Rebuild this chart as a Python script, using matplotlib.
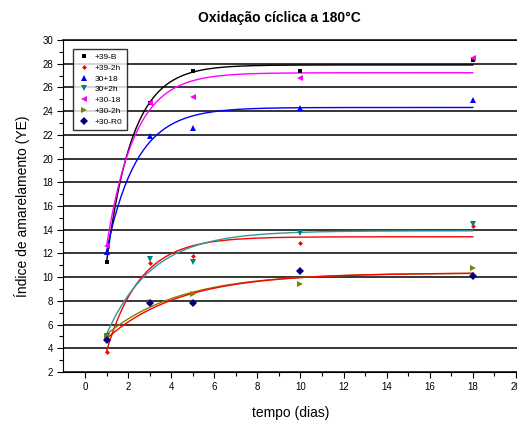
import matplotlib
matplotlib.use('Agg')
import matplotlib.pyplot as plt
import numpy as np
from matplotlib.ticker import MultipleLocator

plt.rcParams['font.family'] = ['Liberation Sans', 'DejaVu Sans']

# tempo de oxidação (dias)
dias = [1, 3, 5, 10, 18]

# índice de amarelamento de cada amostra
ye_39_b = [11.3, 24.7, 27.4, 27.4, 28.3]
ye_39_2h = [3.7, 11.2, 11.8, 12.9, 14.3]
ye_30_18 = [12.15, 21.9, 22.55, 24.3, 24.9]
ye_30_2h = [5.0, 11.5, 11.3, 13.7, 14.45]
ye_m30_18 = [12.6, 24.7, 25.2, 26.8, 28.5]
ye_m30_2h = [5.0, 7.9, 8.6, 9.4, 10.75]
ye_m30_r0 = [4.7, 7.85, 7.85, 10.5, 10.1]

nomes = ['+39-B', '+39-2h', '30+18', '30+2h', '+30-18', '+30-2h', '+30-R0']
series = [ye_39_b, ye_39_2h, ye_30_18, ye_30_2h, ye_m30_18, ye_m30_2h, ye_m30_r0]
marcadores = ['s', 'D', '^', 'v', '<', '>', 'D']
tamanhos = [3.5, 2.5, 5, 5, 5, 5, 4]
cores_pto = ['black', 'red', 'blue', '#008080', 'magenta', '#808000', '#000080']
cores_fit = ['black', 'red', 'blue', '#2e9a9a', 'magenta', '#808000', 'red']


def ajuste_exp(x, y):
    # y = a - b*exp(-k x), k por varredura e a, b por minimos quadrados
    x = np.asarray(x, float)
    y = np.asarray(y, float)
    melhor = None
    for k in np.linspace(0.05, 3.0, 600):
        A = np.column_stack([np.ones_like(x), -np.exp(-k * x)])
        coef, _, _, _ = np.linalg.lstsq(A, y, rcond=None)
        erro = np.sum((A @ coef - y) ** 2)
        if melhor is None or erro < melhor[0]:
            melhor = (erro, coef[0], coef[1], k)
    return melhor[1:]


fig = plt.figure(figsize=(5.17, 4.23), dpi=100)
ax = fig.add_axes([63.5 / 517, 1 - 372 / 423, 1 - 63.5 / 517, 332 / 423])

xf = np.linspace(1, 18, 200)
for y, nome, m, ms, cp, cf in zip(series, nomes, marcadores, tamanhos, cores_pto, cores_fit):
    a, b, k = ajuste_exp(dias, y)
    ax.plot(xf, a - b * np.exp(-k * xf), color=cf, lw=1.0, zorder=3)
    ax.plot(dias, y, linestyle='none', marker=m, ms=ms, color=cp,
            markeredgewidth=0, label=nome, zorder=4)

ax.set_xlim(-1, 20.05)
ax.set_ylim(2, 30)
ax.xaxis.set_major_locator(MultipleLocator(2))
ax.xaxis.set_minor_locator(MultipleLocator(1))
ax.yaxis.set_major_locator(MultipleLocator(2))
ax.yaxis.set_minor_locator(MultipleLocator(1))
ax.tick_params(which='both', direction='out', labelsize=7, width=0.8)
ax.tick_params(which='major', length=4)
ax.tick_params(which='minor', length=3)
ax.set_xticks(np.arange(0, 21, 1), minor=True)

ax.grid(axis='y', which='major', color='black', lw=1.1)
ax.spines['top'].set_linewidth(1.1)
ax.spines['right'].set_visible(False)
ax.set_axisbelow(True)

ax.set_xlabel('tempo (dias)', fontsize=10, labelpad=10)
ax.set_ylabel('Índice de amarelamento (YE)', fontsize=10, labelpad=9)
fig.text(0.54, 0.957, 'Oxidação cíclica a 180°C', ha='center', va='center',
         fontsize=10, fontweight='bold')

leg = ax.legend(loc='upper left', bbox_to_anchor=(0.012, 0.985), fontsize=6,
                frameon=True, fancybox=False, edgecolor='black',
                handletextpad=0.6, borderpad=0.5, labelspacing=0.35,
                handlelength=1.5)
leg.get_frame().set_linewidth(1.0)

fig.savefig('out.png', dpi=100)
